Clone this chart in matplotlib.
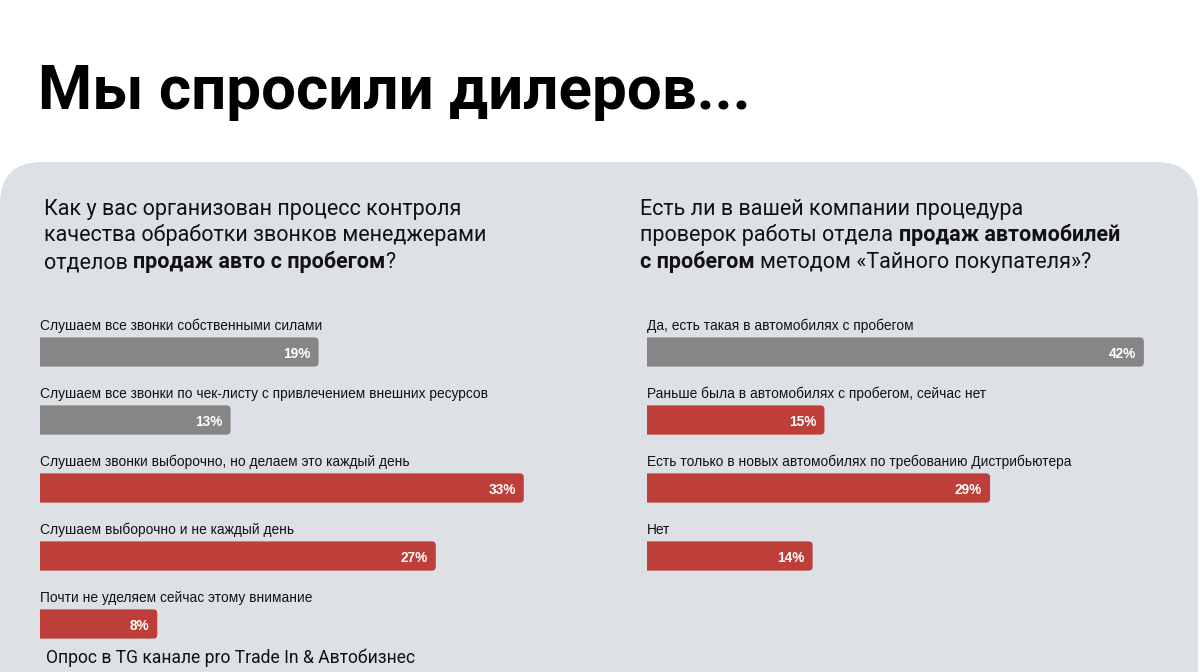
import matplotlib
matplotlib.use("Agg")
import matplotlib.pyplot as plt
from matplotlib.patches import FancyBboxPatch

# --- data ---
left_labels = [
    "Слушаем все звонки собственными силами",
    "Слушаем все звонки по чек-листу с привлечением внешних ресурсов",
    "Слушаем звонки выборочно, но делаем это каждый день",
    "Слушаем выборочно и не каждый день",
    "Почти не уделяем сейчас этому внимание",
]
left_values = [19, 13, 33, 27, 8]

right_labels = [
    "Да, есть такая в автомобилях с пробегом",
    "Раньше была в автомобилях с пробегом, сейчас нет",
    "Есть только в новых автомобилях по требованию Дистрибьютера",
    "Нет",
]
right_values = [42, 15, 29, 14]

title = "Мы спросили дилеров..."
footer = "Опрос в TG канале pro Trade In & Автобизнес"

# question lines: (text, bold, space before)
left_question = [
    [("Как у вас организован процесс контроля", False, False)],
    [("качества обработки звонков менеджерами", False, False)],
    [("отделов", False, False), ("продаж авто с пробегом", True, True), ("?", False, False)],
]
right_question = [
    [("Есть ли в вашей компании процедура", False, False)],
    [("проверок работы отдела", False, False), ("продаж автомобилей", True, True)],
    [("с пробегом", True, False), ("методом «Тайного покупателя»?", False, True)],
]

# --- style ---
GREY = "#868686"
RED = "#BE3E3A"
PANEL = "#DDE1E5"
INK = "#111111"
HEAD_FONT = ["Roboto", "DejaVu Sans"]
BAR_FONT = ["Liberation Sans", "DejaVu Sans"]
left_colors = [GREY, GREY, RED, RED, RED]
right_colors = [GREY, RED, RED, RED]

W, H = 1200, 672
fig = plt.figure(figsize=(W / 100, H / 100), dpi=100)
fig.patch.set_facecolor("white")
renderer = fig.canvas.get_renderer()


def fit(t, target_px):
    # scale a text so its width matches the width measured on the reference
    w = t.get_window_extent(renderer).width
    t.set_fontsize(t.get_fontsize() * target_px / w)
    return t.get_fontsize()


# background axes in pixel units
bg = fig.add_axes([0, 0, 1, 1])
bg.set_xlim(0, W)
bg.set_ylim(H, 0)
bg.axis("off")
bg.add_patch(FancyBboxPatch((0, 162), 1198, 600,
                            boxstyle="round,pad=0,rounding_size=42",
                            fc=PANEL, ec="none"))

t = bg.text(38, 109, title, fontsize=48, fontweight="bold", color="black",
            family=HEAD_FONT, va="baseline", ha="left")
fit(t, 712)

probe = bg.text(0, 0, left_question[0][0][0], fontsize=16, family=HEAD_FONT)
q_size = fit(probe, 418)
probe.remove()


def rich_lines(x, y0, lines, size, step):
    for k, parts in enumerate(lines):
        prev = None
        for txt, bold, space in parts:
            kw = dict(fontsize=size, fontweight="bold" if bold else "normal",
                      color=INK, family=HEAD_FONT)
            if prev is None:
                prev = bg.text(x, y0 + k * step, txt, va="baseline", ha="left", **kw)
            else:
                gap = size * 0.25 if space else 0
                prev = bg.annotate(txt, xy=(1, 0), xycoords=prev,
                                   xytext=(gap, 0), textcoords="offset points",
                                   va="bottom", ha="left", **kw)


rich_lines(44, 215, left_question, q_size, 26.5)
rich_lines(640, 215, right_question, q_size, 26.5)

t = bg.text(46, 663, footer, fontsize=12.5, color=INK, family=HEAD_FONT,
            va="baseline", ha="left")
fit(t, 370)

probe = bg.text(0, 0, left_labels[0], fontsize=10, family=BAR_FONT)
lab_size = fit(probe, 282)
probe.remove()


def bar_panel(x0_px, px_per_unit, xmax, labels, values, colors):
    width_px = xmax * px_per_unit
    ytop, ybot = -0.9, 4.5
    top_px = 352 + ytop * 68
    bot_px = 352 + ybot * 68
    ax = fig.add_axes([x0_px / W, 1 - bot_px / H, width_px / W, (bot_px - top_px) / H])
    ax.set_xlim(0, xmax)
    ax.set_ylim(ybot, ytop)
    ax.axis("off")
    ypos = list(range(len(values)))
    bars = ax.barh(ypos, values, height=0.43, color=colors, edgecolor="none")

    # rounded right end; the left end runs past x=0 and is clipped square by the axes
    p0 = ax.transData.transform((0, 0))
    p1 = ax.transData.transform((1, 1))
    sx = abs(p1[0] - p0[0])
    sy = abs(p1[1] - p0[1])
    r = 4 / sx
    for b, c in zip(bars, colors):
        bx, by, bw, bh = b.get_x(), b.get_y(), b.get_width(), b.get_height()
        b.set_visible(False)
        ax.add_patch(FancyBboxPatch((bx - 3 * r, by), bw + 3 * r, bh,
                                    boxstyle=f"round,pad=0,rounding_size={r}",
                                    mutation_aspect=sx / sy, fc=c, ec="none"))

    for i, (lab, v) in enumerate(zip(labels, values)):
        ax.text(0, i - 0.32, lab, fontsize=lab_size, color=INK, family=BAR_FONT,
                va="baseline", ha="left", clip_on=False)
        ax.annotate(f"{v}%", xy=(v, i), xytext=(-8, 0), textcoords="offset pixels",
                    ha="right", va="center_baseline", color="white",
                    fontweight="bold", fontsize=9.8, family=BAR_FONT)
    return ax


bar_panel(40, 14.66, 36, left_labels, left_values, left_colors)
bar_panel(647, 11.83, 46, right_labels, right_values, right_colors)

fig.savefig("out.png", dpi=100, facecolor="white")
